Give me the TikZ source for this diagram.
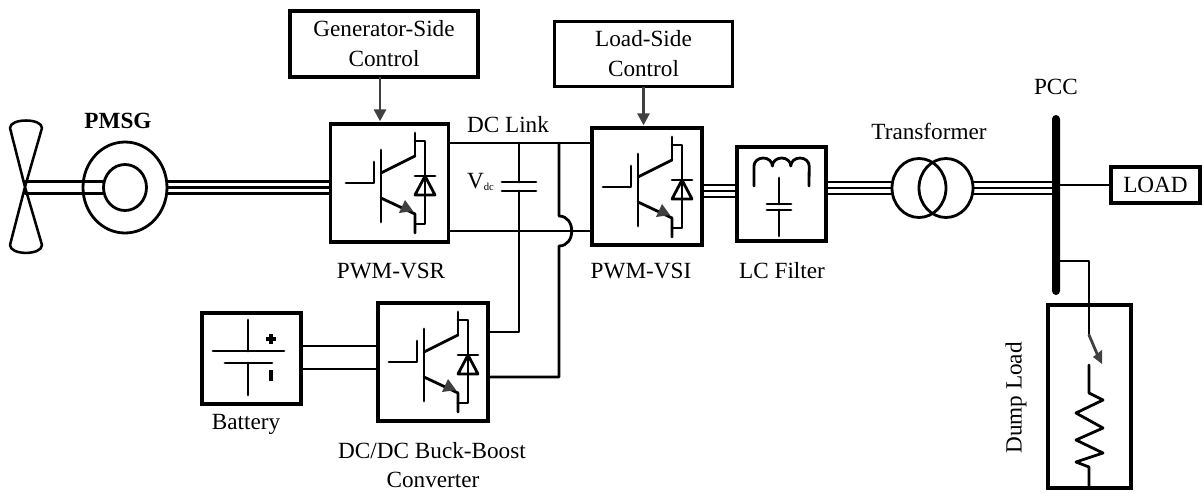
\documentclass[tikz,border=0pt]{standalone}
\usepackage{fontspec}
\setmainfont{Liberation Serif}
\usetikzlibrary{arrows.meta,shapes.geometric}
\definecolor{arrowgray}{HTML}{404040}
\tikzset{
    wire/.style={line width=2.1pt,line cap=round,line join=round},
    thinwire/.style={line width=1.8pt},
    blk/.style 2 args={draw,line width=2.3pt,inner sep=0pt,outer sep=0pt,align=center,
        minimum width=#1*0.75pt,minimum height=#2*0.75pt},
    oval/.style 2 args={ellipse,draw,line width=2.1pt,inner sep=0pt,outer sep=0pt,
        minimum width=#1*0.75pt,minimum height=#2*0.75pt},
    lab/.style={inner sep=0pt,outer sep=0pt,anchor=base,align=center},
    ctrlarrow/.style={line width=2.1pt,draw=arrowgray,shorten >=2pt,
        -{Triangle[length=9pt,width=9pt,fill=arrowgray]}},
    igbt/.pic={
        \draw[wire] (-35,0) -- (-7,0) -- (-7,-21);
        \draw[wire] (0,-33) -- (0,39);
        \draw[wire] (0,-10) -- (34,-27);
        \draw[wire] (34,-50) -- (34,-27);
        \draw[wire] (0,15) -- (34,31) -- (34,50);
        \draw[wire] (34,-42) -- (44,-42) -- (44,41) -- (34,41);
        \draw[wire] (34,-7) -- (54,-7);
        \draw[wire] (44,-7) -- (34,12) -- (54,12) -- cycle;
        \fill[arrowgray] (32,28) -- (18,30) -- (24,17) -- cycle;
    }
}
\begin{document}
\begin{tikzpicture}[x=0.75pt,y=-0.75pt,font=\fontsize{17.4}{22.5}\selectfont]
    \useasboundingbox (0,0) rectangle (1204,493);

    \node[blk={188}{66}] (gensc) at (384,44) {Generator-Side\\Control};
    \node[blk={178}{65}] (loadsc) at (643.5,54) {Load-Side\\Control};
    \node[blk={118}{118}] (vsr) at (389.5,183) {};
    \node[blk={110}{117}] (vsi) at (647,186.5) {};
    \node[blk={110}{118}] (buck) at (433,362) {};
    \node[blk={99}{91}] (batt) at (251.5,358.5) {};
    \node[blk={89}{94}] (lcf) at (781.5,194) {};
    \node[blk={89}{36}] (load) at (1155.5,185) {LOAD};
    \node[blk={83}{183}] (dump) at (1089.5,396.5) {};
    \node[oval={84}{91}] (pmsg) at (125,187.5) {};
    \node[oval={43}{46}] (rotor) at (125,187.5) {};
    \node[oval={54}{59}] (tfa) at (919,188) {};
    \node[oval={54}{59}] (tfb) at (946,188) {};
    \node[fill=black,rounded corners=3pt,inner sep=0pt,outer sep=0pt,
        minimum width=6pt,minimum height=135pt] (pcc) at (1056,205) {};

    \coordinate (hub) at (25,187);
    \coordinate (lnktop) at (449,143);
    \coordinate (lnkbot) at (449,231);
    \coordinate (capa) at (519,143);
    \coordinate (capb) at (519,182);
    \coordinate (capc) at (519,191);
    \coordinate (bkup) at (488,332);
    \coordinate (bkdn) at (488,377);
    \coordinate (jmpa) at (559,143);
    \coordinate (jmpb) at (559,216);
    \coordinate (jmpc) at (559,246);
    \coordinate (vsiout) at (702,191);
    \coordinate (dmptap) at (1060,261);
    \coordinate (swa) at (1089,335);
    \coordinate (swb) at (1089,365);
    \coordinate (resa) at (1089,393);
    \coordinate (resb) at (1089,467);

    \draw[line width=1.9pt,line join=round] (hub) -- (10,128) .. controls (10,118) and (42,118) .. (42,128) -- (hub)
        -- (42,245) .. controls (42,255.5) and (10,255.5) .. (10,245) -- cycle;
    \foreach \dy in {-4.5,4.5}
        \draw[wire] ([yshift=\dy pt]rotor.west) -- ([yshift=\dy pt]rotor.west -| hub);
    \foreach \dy in {-4.5,0,4.5} {
        \draw[thinwire] ([yshift=\dy pt]pmsg.east) -- ([yshift=\dy pt]pmsg.east -| vsr.west);
        \draw[thinwire] ([yshift=\dy pt]vsiout) -- ([yshift=\dy pt]vsiout -| lcf.west);
        \draw[thinwire] ([yshift=\dy pt]tfa.west) -- ([yshift=\dy pt]tfa.west -| lcf.east);
        \draw[thinwire] ([yshift=\dy pt]tfb.east) -- ([yshift=\dy pt]tfb.east -| pcc.west);
    }

    \draw[ctrlarrow] ([xshift=-3pt]gensc.south) -- ([xshift=-3pt]gensc.south |- vsr.north);
    \draw[ctrlarrow] (loadsc.south) -- (loadsc.south |- vsi.north);

    \pic at (381,183) {igbt};
    \pic at (638,187) {igbt};
    \pic at (424,362) {igbt};

    \draw[wire] (lnktop) -- (lnktop -| vsi.west);
    \draw[wire] (lnkbot) -- (lnkbot -| vsi.west);
    \draw[wire] (capa) -- (capb);
    \draw[wire] (502,182) -- (536,182);
    \draw[wire] (502,191) -- (536,191);
    \draw[wire] (capc) |- (bkup);
    \draw[wire] (jmpa) -- (jmpb) .. controls (576,216) and (576,246) .. (jmpc) |- (bkdn);

    \draw[wire] (batt.east |- 0,346) -- (buck.west |- 0,346);
    \draw[wire] (batt.east |- 0,369) -- (buck.west |- 0,369);
    \draw[wire] (213,351) -- (284,351);
    \draw[wire] (225,363) -- (272,363);
    \draw[wire] (248,320) -- (248,351);
    \draw[wire] (248,363) -- (248,395);
    \draw[line width=2.6pt] (266,339) -- (276,339);
    \draw[line width=2.6pt] (271,334) -- (271,344);
    \draw[line width=2.6pt] (271,370) -- (271,381);

    \draw[wire] (754,186) -- (754,166) arc (180:360:9.2 and 8) arc (180:360:9.2 and 8) arc (180:360:9.2 and 8) -- (809,186);
    \draw[wire] (779,178) -- (779,204);
    \draw[wire] (767,204) -- (791,204);
    \draw[wire] (767,210) -- (791,210);
    \draw[wire] (779,210) -- (779,236);

    \draw[wire] (load.west) -- (load.west -| pcc.east);
    \draw[wire] (dmptap) -| (swa);
    \draw[wire,draw=arrowgray] (swa) -- (1098,356);
    \fill[arrowgray] (1102,364) -- (1093,357) -- (1102,350) -- cycle;
    \draw[wire] (swb) -- (resa) -- (1103,400) -- (1076,413) -- (1103,428) -- (1076,440)
        -- (1103,453) -- (1076,462) -- (resb) -- (resb |- dump.south);

    \node[lab,font=\fontsize{17.4}{22.5}\selectfont\bfseries] (pmsglab) at (118,128) {PMSG};
    \node[lab] (vsrlab) at (391,278) {PWM-VSR};
    \node[lab] (vsilab) at (641,278) {PWM-VSI};
    \node[lab] (lcflab) at (782,278) {LC Filter};
    \node[lab] (tflab) at (929,139) {Transformer};
    \node[lab] (pcclab) at (1056,94) {PCC};
    \node[lab] (dclab) at (508,132) {DC Link};
    \node[lab,anchor=base west] (vdclab) at (467,188) {V{\fontsize{8}{8}\selectfont\raisebox{-1.5pt}{dc}}};
    \node[lab] (battlab) at (246,429) {Battery};
    \node[lab] (bucklab) at (432,458) {DC/DC Buck-Boost};
    \node[lab] (convlab) at (433,487) {Converter};
    \node[rotate=90,inner sep=0pt,outer sep=0pt] (dumplab) at (1016,398) {Dump Load};
\end{tikzpicture}
\end{document}
